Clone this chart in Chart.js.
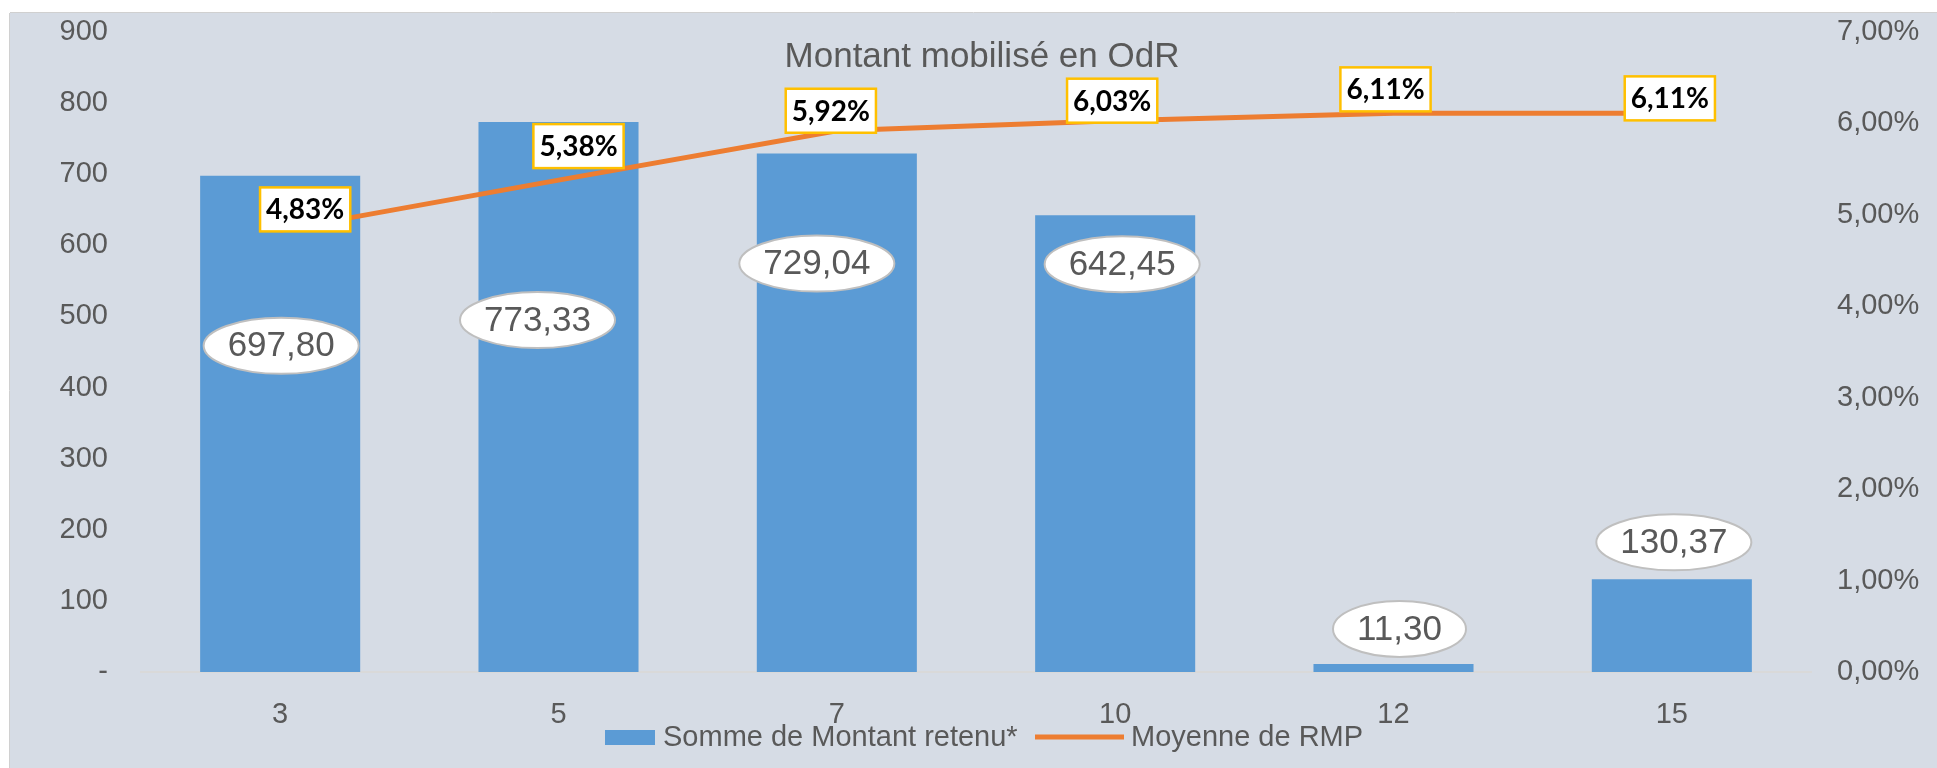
<!DOCTYPE html>
<html><head><meta charset="utf-8">
<script src="https://cdn.jsdelivr.net/npm/chart.js@4.4.0/dist/chart.umd.min.js"></script>
<style>html,body{margin:0;padding:0;background:#fff;}#wrap{width:1937px;height:768px;}</style>
</head><body><div id="wrap"><canvas id="c" width="1937" height="768"></canvas></div>
<script>
const categories = ['3', '5', '7', '10', '12', '15'];
const montantRetenu = [697.80, 773.33, 729.04, 642.45, 11.30, 130.37];
const moyenneRMP = [4.83, 5.38, 5.92, 6.03, 6.11, 6.11];
const leftTickValues = [0, 100, 200, 300, 400, 500, 600, 700, 800, 900];
const rightTickValues = [0, 1, 2, 3, 4, 5, 6, 7];
const chartTitle = 'Montant mobilisé en OdR';
const seriesNames = ['Somme de Montant retenu*', 'Moyenne de RMP'];

const BAR = '#5B9BD5', LINE = '#ED7D31', TXT = '#595959', BG = '#D6DCE5';
const AX = '"Liberation Sans", Arial, sans-serif';
const fmt = (v, d) => v.toFixed(d).replace('.', ',');

// label placement (style only, pixel offsets relative to the mark)
const barLabelOffsets = [[1, 170], [-21, 198], [-20, 110], [7, 49], [6, -35], [2, -37]];
const lineLabelOffsets = [[25, -21], [20, -34], [-6, -20], [-3, -20], [-8, -24], [-2, -15]];

function ellipse(ctx, cx, cy, rx, ry) {
  ctx.beginPath(); ctx.ellipse(cx, cy, rx, ry, 0, 0, Math.PI * 2);
}

const decor = {
  id: 'decor',
  beforeDraw(chart) {
    const ctx = chart.ctx;
    ctx.save();
    ctx.fillStyle = '#ffffff'; ctx.fillRect(0, 0, chart.width, chart.height);
    ctx.fillStyle = BG; ctx.fillRect(10, 13, chart.width - 10, chart.height - 13);
    ctx.strokeStyle = '#D0D0D0'; ctx.lineWidth = 1;
    ctx.beginPath(); ctx.moveTo(10, 12.5); ctx.lineTo(chart.width, 12.5); ctx.stroke();
    ctx.beginPath(); ctx.moveTo(9.5, 13); ctx.lineTo(9.5, chart.height); ctx.stroke();
    ctx.restore();
  },
  afterDatasetsDraw(chart) {
    const ctx = chart.ctx;
    ctx.save();
    // title
    ctx.fillStyle = TXT; ctx.font = '35px ' + AX; ctx.textAlign = 'center'; ctx.textBaseline = 'middle';
    ctx.fillText(chartTitle, 982, 57);
    // bar labels
    const bars = chart.getDatasetMeta(0).data;
    ctx.font = '35px "Liberation Sans Narrow", "Liberation Sans", sans-serif';
    bars.forEach((b, i) => {
      const t = fmt(montantRetenu[i], 2);
      const [dx, dy] = barLabelOffsets[i];
      const cx = b.x + dx, cy = b.y + dy;
      const w = ctx.measureText(t).width;
      const rx = w / 2 + 24, ry = 28;
      ellipse(ctx, cx, cy, rx, ry);
      ctx.fillStyle = '#ffffff'; ctx.fill();
      ctx.strokeStyle = '#BFBFBF'; ctx.lineWidth = 2; ctx.stroke();
      ctx.fillStyle = TXT; ctx.textAlign = 'center'; ctx.textBaseline = 'middle';
      ctx.fillText(t, cx, cy + 1);
    });
    // line labels
    const pts = chart.getDatasetMeta(1).data;
    ctx.font = 'bold 28px Lato, "Liberation Sans", sans-serif';
    pts.forEach((p, i) => {
      const t = fmt(moyenneRMP[i], 2) + '%';
      const [dx, dy] = lineLabelOffsets[i];
      const cx = p.x + dx, cy = p.y + dy;
      const w = ctx.measureText(t).width + 12, h = 44;
      ctx.fillStyle = '#ffffff'; ctx.fillRect(cx - w / 2, cy - h / 2, w, h);
      ctx.strokeStyle = '#FFC000'; ctx.lineWidth = 2.5; ctx.strokeRect(cx - w / 2, cy - h / 2, w, h);
      ctx.fillStyle = '#000000'; ctx.textAlign = 'center'; ctx.textBaseline = 'middle';
      ctx.fillText(t, cx, cy + 1);
    });
    // legend
    ctx.font = '29px ' + AX; ctx.textAlign = 'left'; ctx.textBaseline = 'middle';
    ctx.fillStyle = BAR; ctx.fillRect(605, 730, 50, 15);
    ctx.fillStyle = TXT; ctx.fillText(chart.data.datasets[0].label, 663, 738);
    ctx.strokeStyle = LINE; ctx.lineWidth = 5;
    ctx.beginPath(); ctx.moveTo(1035, 737); ctx.lineTo(1124, 737); ctx.stroke();
    ctx.fillText(chart.data.datasets[1].label, 1131, 738);
    ctx.restore();
  }
};

new Chart(document.getElementById('c'), {
  data: {
    labels: categories,
    datasets: [
      { type: 'bar', label: seriesNames[0], data: montantRetenu, backgroundColor: BAR, yAxisID: 'y',
        barPercentage: 0.575, categoryPercentage: 1, order: 2 },
      { type: 'line', label: seriesNames[1], data: moyenneRMP, borderColor: LINE, borderWidth: 5,
        pointRadius: 0, tension: 0, yAxisID: 'y1', order: 1 }
    ]
  },
  options: {
    responsive: false, animation: false, devicePixelRatio: 1,
    layout: { padding: { top: 32, left: 0, right: 0, bottom: 0 } },
    plugins: { legend: { display: false }, title: { display: false }, tooltip: { enabled: false } },
    scales: {
      x: {
        grid: { display: false, drawTicks: false },
        border: { display: true, color: '#D9D9D9', width: 2 },
        ticks: { color: TXT, font: { family: AX, size: 29 }, padding: 26 },
        afterFit(s) { s.height = 96; s.paddingLeft = 0; s.paddingRight = 0; }
      },
      y: {
        position: 'left', min: 0, max: 900,
        grid: { display: false, drawTicks: false }, border: { display: false },
        afterBuildTicks(s) { s.ticks = leftTickValues.map(v => ({ value: v })); },
        ticks: { color: TXT, font: { family: AX, size: 29 }, padding: 33,
          callback: v => v === 0 ? '-' : String(v) },
        afterFit(s) { s.width = 141; s.paddingTop = 0; s.paddingBottom = 0; }
      },
      y1: {
        position: 'right', min: 0, max: 7,
        grid: { display: false, drawTicks: false }, border: { display: false },
        afterBuildTicks(s) { s.ticks = rightTickValues.map(v => ({ value: v })); },
        ticks: { color: TXT, font: { family: AX, size: 29 }, padding: 26,
          callback: v => fmt(v, 2) + '%' },
        afterFit(s) { s.width = 126; s.paddingTop = 0; s.paddingBottom = 0; }
      }
    }
  },
  plugins: [decor]
});
</script></body></html>
